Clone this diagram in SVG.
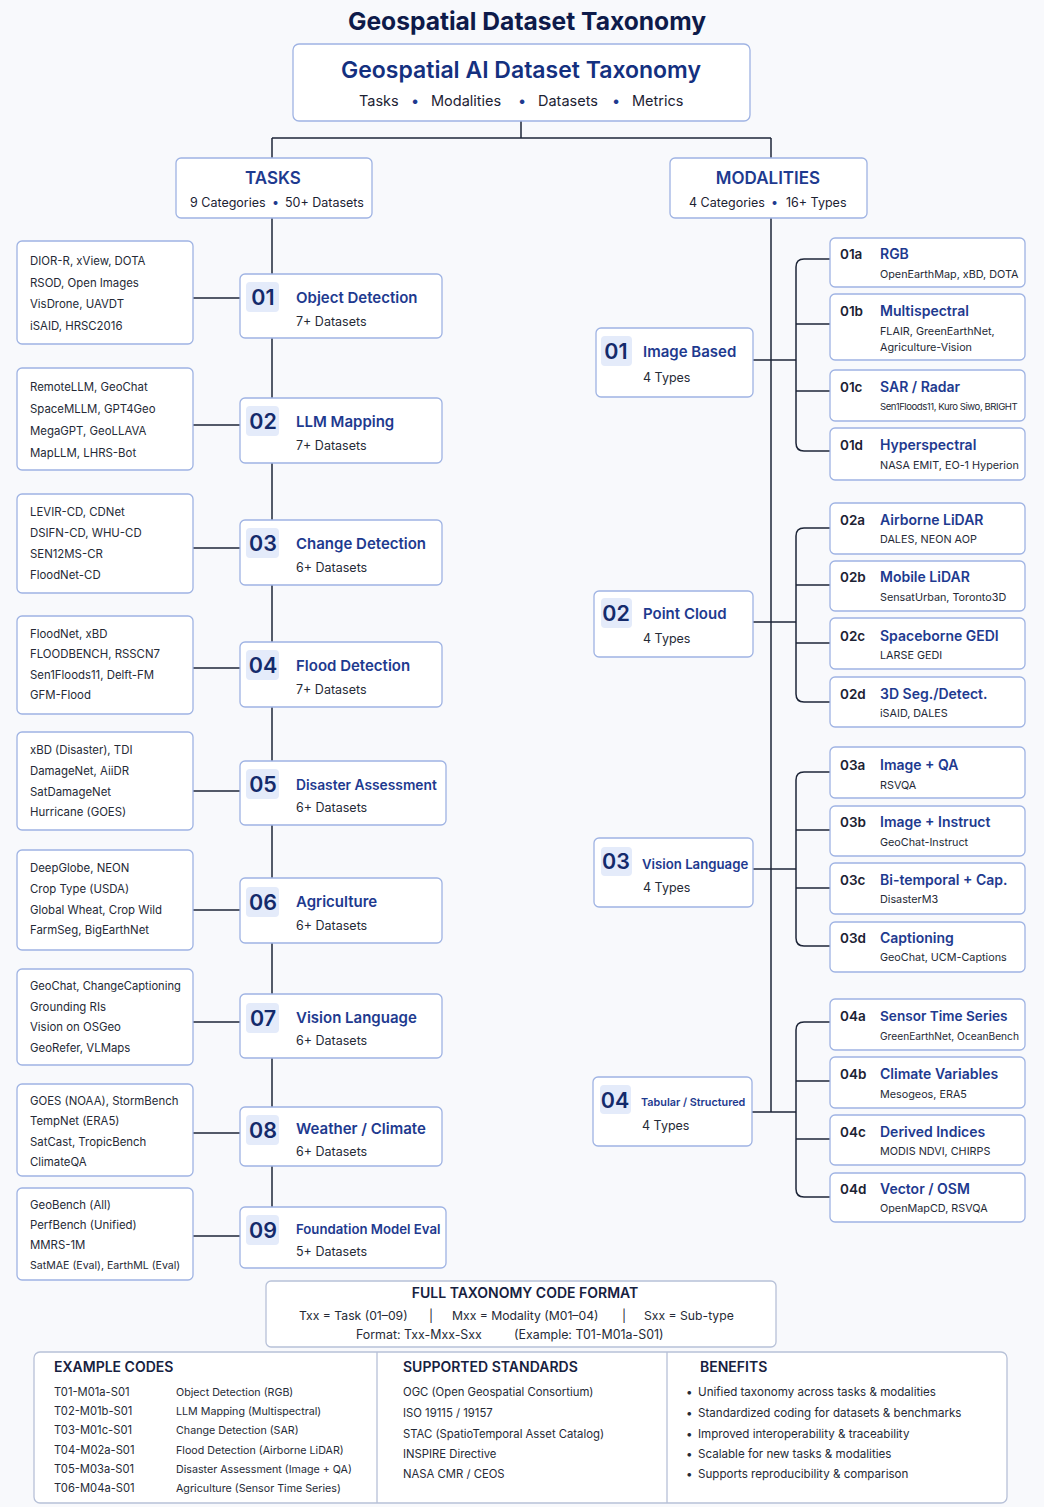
<svg xmlns="http://www.w3.org/2000/svg" width="1044" height="1507" viewBox="0 0 1044 1507">
<style>
text{font-family:Inter,"Liberation Sans",sans-serif;fill:#1c2233}
.box{fill:#fff;stroke:#9fb3e3;stroke-width:1.3}
.badge{fill:#e4ebfa}
.num{font-size:21.5px;font-weight:600;fill:#142a6b;text-anchor:middle}
.ttl{font-size:15px;font-weight:600;fill:#1e3a8f}
.sub{font-size:12.5px;fill:#252a36}
.dat{font-size:11.4px;fill:#252a36}
.code{font-size:13.5px;font-weight:600;fill:#1c2233}
.stl{font-size:14px;font-weight:600;fill:#1e3a8f}
.ssub{font-size:10.8px;fill:#252a36}
.hdr{font-size:14px;font-weight:600;fill:#17213f}
.sm{font-size:11.3px;fill:#252a36}
.conn{fill:none;stroke:#1e2638;stroke-width:1.5}
</style>
<rect width="1044" height="1507" fill="#f8f9fc"/>
<text x="527" y="30" text-anchor="middle" style="font-size:24.6px;font-weight:700;fill:#0e1b4a">Geospatial Dataset Taxonomy</text>

<g id="connectors" class="conn">
<path d="M521 121V138M272 138H771M272 138V158M771 138V158"/>
<path d="M272 218V1208"/>
<path d="M771 218V1112"/>
<path d="M193 298H240M193 425H240M193 548H240M193 668H240M193 791H240M193 910H240M193 1022H240M193 1133H240M193 1236H240"/>
<path d="M753 360H796M830 259H804Q796 259 796 267V443Q796 451 804 451H830M796 324H830M796 391H830"/>
<path d="M753 622H796M830 528H804Q796 528 796 536V694Q796 702 804 702H830M796 585H830M796 643H830"/>
<path d="M753 869H796M830 772H804Q796 772 796 780V938Q796 946 804 946H830M796 830H830M796 888H830"/>
<path d="M752 1112H796M830 1022H804Q796 1022 796 1030V1189Q796 1197 804 1197H830M796 1081H830M796 1139H830"/>
</g>

<g id="root">
<rect class="box" x="293" y="44" width="457" height="77" rx="6"/>
<text x="521" y="78" text-anchor="middle" style="font-size:23px;font-weight:600;fill:#14307f">Geospatial AI Dataset Taxonomy</text>
<text y="106" style="font-size:14.5px" fill="#1c2233"><tspan x="359">Tasks</tspan><tspan x="411" fill="#1e3a8f">•</tspan><tspan x="431">Modalities</tspan><tspan x="518" fill="#1e3a8f">•</tspan><tspan x="538">Datasets</tspan><tspan x="612" fill="#1e3a8f">•</tspan><tspan x="632">Metrics</tspan></text>
</g>

<g id="tasks">
<rect class="box" x="176" y="158" width="196" height="60" rx="5"/>
<text x="273" y="184" text-anchor="middle" style="font-size:17px;font-weight:600;fill:#1e3a8f">TASKS</text>
<text y="207" style="font-size:12.5px"><tspan x="190">9 Categories</tspan><tspan x="272" fill="#1e3a8f">•</tspan><tspan x="285">50+ Datasets</tspan></text>
</g>
<g id="modalities">
<rect class="box" x="670" y="158" width="197" height="60" rx="5"/>
<text x="768" y="184" text-anchor="middle" style="font-size:17px;font-weight:600;fill:#1e3a8f">MODALITIES</text>
<text y="207" style="font-size:12.5px"><tspan x="689">4 Categories</tspan><tspan x="771" fill="#1e3a8f">•</tspan><tspan x="786">16+ Types</tspan></text>
</g>

<!-- Task nodes -->
<g id="t01"><rect class="box" x="240" y="274" width="202" height="64" rx="5"/><rect class="badge" x="246" y="282" width="33" height="30" rx="4"/><text class="num" x="263" y="305">01</text><text class="ttl" x="296" y="303">Object Detection</text><text class="sub" x="296" y="326">7+ Datasets</text></g>
<g id="t02"><rect class="box" x="240" y="398" width="202" height="65" rx="5"/><rect class="badge" x="246" y="406" width="33" height="30" rx="4"/><text class="num" x="263" y="429">02</text><text class="ttl" x="296" y="427">LLM Mapping</text><text class="sub" x="296" y="450">7+ Datasets</text></g>
<g id="t03"><rect class="box" x="240" y="520" width="202" height="65" rx="5"/><rect class="badge" x="246" y="528" width="33" height="30" rx="4"/><text class="num" x="263" y="551">03</text><text class="ttl" x="296" y="549">Change Detection</text><text class="sub" x="296" y="572">6+ Datasets</text></g>
<g id="t04"><rect class="box" x="240" y="642" width="202" height="65" rx="5"/><rect class="badge" x="246" y="650" width="33" height="30" rx="4"/><text class="num" x="263" y="673">04</text><text class="ttl" x="296" y="671">Flood Detection</text><text class="sub" x="296" y="694">7+ Datasets</text></g>
<g id="t05"><rect class="box" x="240" y="761" width="206" height="64" rx="5"/><rect class="badge" x="246" y="769" width="33" height="30" rx="4"/><text class="num" x="263" y="792">05</text><text class="ttl" x="296" y="790" style="font-size:13.8px">Disaster Assessment</text><text class="sub" x="296" y="812">6+ Datasets</text></g>
<g id="t06"><rect class="box" x="240" y="878" width="202" height="65" rx="5"/><rect class="badge" x="246" y="887" width="33" height="30" rx="4"/><text class="num" x="263" y="910">06</text><text class="ttl" x="296" y="907">Agriculture</text><text class="sub" x="296" y="930">6+ Datasets</text></g>
<g id="t07"><rect class="box" x="240" y="994" width="202" height="64" rx="5"/><rect class="badge" x="246" y="1003" width="33" height="30" rx="4"/><text class="num" x="263" y="1026">07</text><text class="ttl" x="296" y="1023">Vision Language</text><text class="sub" x="296" y="1045">6+ Datasets</text></g>
<g id="t08"><rect class="box" x="240" y="1107" width="202" height="59" rx="5"/><rect class="badge" x="246" y="1115" width="33" height="30" rx="4"/><text class="num" x="263" y="1138">08</text><text class="ttl" x="296" y="1134">Weather / Climate</text><text class="sub" x="296" y="1156">6+ Datasets</text></g>
<g id="t09"><rect class="box" x="240" y="1207" width="206" height="61" rx="5"/><rect class="badge" x="246" y="1215" width="33" height="30" rx="4"/><text class="num" x="263" y="1238">09</text><text class="ttl" x="296" y="1234" style="font-size:13.2px">Foundation Model Eval</text><text class="sub" x="296" y="1256">5+ Datasets</text></g>

<!-- Dataset lists -->
<g id="d01"><rect class="box" x="17" y="241" width="176" height="103" rx="5"/><text class="dat" x="30" y="265">DIOR-R, xView, DOTA</text><text class="dat" x="30" y="287">RSOD, Open Images</text><text class="dat" x="30" y="308">VisDrone, UAVDT</text><text class="dat" x="30" y="330">iSAID, HRSC2016</text></g>
<g id="d02"><rect class="box" x="17" y="368" width="176" height="102" rx="5"/><text class="dat" x="30" y="391">RemoteLLM, GeoChat</text><text class="dat" x="30" y="413">SpaceMLLM, GPT4Geo</text><text class="dat" x="30" y="435">MegaGPT, GeoLLAVA</text><text class="dat" x="30" y="457">MapLLM, LHRS-Bot</text></g>
<g id="d03"><rect class="box" x="17" y="494" width="176" height="99" rx="5"/><text class="dat" x="30" y="516">LEVIR-CD, CDNet</text><text class="dat" x="30" y="537">DSIFN-CD, WHU-CD</text><text class="dat" x="30" y="558">SEN12MS-CR</text><text class="dat" x="30" y="579">FloodNet-CD</text></g>
<g id="d04"><rect class="box" x="17" y="616" width="176" height="98" rx="5"/><text class="dat" x="30" y="638">FloodNet, xBD</text><text class="dat" x="30" y="658">FLOODBENCH, RSSCN7</text><text class="dat" x="30" y="679">Sen1Floods11, Delft-FM</text><text class="dat" x="30" y="699">GFM-Flood</text></g>
<g id="d05"><rect class="box" x="17" y="732" width="176" height="98" rx="5"/><text class="dat" x="30" y="754">xBD (Disaster), TDI</text><text class="dat" x="30" y="775">DamageNet, AiiDR</text><text class="dat" x="30" y="796">SatDamageNet</text><text class="dat" x="30" y="816">Hurricane (GOES)</text></g>
<g id="d06"><rect class="box" x="17" y="850" width="176" height="100" rx="5"/><text class="dat" x="30" y="872">DeepGlobe, NEON</text><text class="dat" x="30" y="893">Crop Type (USDA)</text><text class="dat" x="30" y="914">Global Wheat, Crop Wild</text><text class="dat" x="30" y="934">FarmSeg, BigEarthNet</text></g>
<g id="d07"><rect class="box" x="17" y="969" width="176" height="96" rx="5"/><text class="dat" x="30" y="990" style="font-size:11.2px">GeoChat, ChangeCaptioning</text><text class="dat" x="30" y="1011">Grounding RIs</text><text class="dat" x="30" y="1031">Vision on OSGeo</text><text class="dat" x="30" y="1052">GeoRefer, VLMaps</text></g>
<g id="d08"><rect class="box" x="17" y="1084" width="176" height="92" rx="5"/><text class="dat" x="30" y="1105">GOES (NOAA), StormBench</text><text class="dat" x="30" y="1125">TempNet (ERA5)</text><text class="dat" x="30" y="1146">SatCast, TropicBench</text><text class="dat" x="30" y="1166">ClimateQA</text></g>
<g id="d09"><rect class="box" x="17" y="1188" width="176" height="92" rx="5"/><text class="dat" x="30" y="1209">GeoBench (All)</text><text class="dat" x="30" y="1229">PerfBench (Unified)</text><text class="dat" x="30" y="1249">MMRS-1M</text><text class="dat" x="30" y="1269" style="font-size:10.6px">SatMAE (Eval), EarthML (Eval)</text></g>

<!-- Modality categories -->
<g id="m01"><rect class="box" x="596" y="328" width="157" height="69" rx="5"/><rect class="badge" x="601" y="336" width="31" height="30" rx="4"/><text class="num" x="616" y="359">01</text><text class="ttl" x="643" y="357">Image Based</text><text class="sub" x="643" y="382">4 Types</text></g>
<g id="m02"><rect class="box" x="594" y="591" width="159" height="66" rx="5"/><rect class="badge" x="601" y="598" width="31" height="30" rx="4"/><text class="num" x="616" y="621">02</text><text class="ttl" x="643" y="619">Point Cloud</text><text class="sub" x="643" y="643">4 Types</text></g>
<g id="m03"><rect class="box" x="594" y="838" width="159" height="69" rx="5"/><rect class="badge" x="601" y="847" width="31" height="29" rx="4"/><text class="num" x="616" y="869">03</text><text class="ttl" x="642" y="869" style="font-size:13.2px">Vision Language</text><text class="sub" x="643" y="892">4 Types</text></g>
<g id="m04"><rect class="box" x="593" y="1077" width="159" height="69" rx="5"/><rect class="badge" x="600" y="1085" width="31" height="29" rx="4"/><text class="num" x="615" y="1108">04</text><text class="ttl" x="641" y="1106" style="font-size:10.8px">Tabular / Structured</text><text class="sub" x="642" y="1130">4 Types</text></g>

<!-- Modality subtypes -->
<g id="m01a"><rect class="box" x="830" y="238" width="195" height="49" rx="5"/><text class="code" x="840" y="259">01a</text><text class="stl" x="880" y="259">RGB</text><text class="ssub" x="880" y="278">OpenEarthMap, xBD, DOTA</text></g>
<g id="m01b"><rect class="box" x="830" y="294" width="195" height="66" rx="5"/><text class="code" x="840" y="316">01b</text><text class="stl" x="880" y="316">Multispectral</text><text class="ssub" x="880" y="335">FLAIR, GreenEarthNet,</text><text class="ssub" x="880" y="351">Agriculture-Vision</text></g>
<g id="m01c"><rect class="box" x="830" y="370" width="195" height="51" rx="5"/><text class="code" x="840" y="392">01c</text><text class="stl" x="880" y="392">SAR / Radar</text><text class="ssub" x="880" y="410" style="font-size:9.6px;letter-spacing:-0.45px">Sen1Floods11, Kuro Siwo, BRIGHT</text></g>
<g id="m01d"><rect class="box" x="830" y="428" width="195" height="52" rx="5"/><text class="code" x="840" y="450">01d</text><text class="stl" x="880" y="450">Hyperspectral</text><text class="ssub" x="880" y="469">NASA EMIT, EO-1 Hyperion</text></g>

<g id="m02a"><rect class="box" x="830" y="503" width="195" height="51" rx="5"/><text class="code" x="840" y="525">02a</text><text class="stl" x="880" y="525">Airborne LiDAR</text><text class="ssub" x="880" y="543">DALES, NEON AOP</text></g>
<g id="m02b"><rect class="box" x="830" y="561" width="195" height="50" rx="5"/><text class="code" x="840" y="582">02b</text><text class="stl" x="880" y="582">Mobile LiDAR</text><text class="ssub" x="880" y="601">SensatUrban, Toronto3D</text></g>
<g id="m02c"><rect class="box" x="830" y="618" width="195" height="51" rx="5"/><text class="code" x="840" y="641">02c</text><text class="stl" x="880" y="641">Spaceborne GEDI</text><text class="ssub" x="880" y="659">LARSE GEDI</text></g>
<g id="m02d"><rect class="box" x="830" y="677" width="195" height="50" rx="5"/><text class="code" x="840" y="699">02d</text><text class="stl" x="880" y="699">3D Seg./Detect.</text><text class="ssub" x="880" y="717">iSAID, DALES</text></g>

<g id="m03a"><rect class="box" x="830" y="747" width="195" height="51" rx="5"/><text class="code" x="840" y="770">03a</text><text class="stl" x="880" y="770">Image + QA</text><text class="ssub" x="880" y="789">RSVQA</text></g>
<g id="m03b"><rect class="box" x="830" y="806" width="195" height="50" rx="5"/><text class="code" x="840" y="827">03b</text><text class="stl" x="880" y="827">Image + Instruct</text><text class="ssub" x="880" y="846">GeoChat-Instruct</text></g>
<g id="m03c"><rect class="box" x="830" y="863" width="195" height="51" rx="5"/><text class="code" x="840" y="885">03c</text><text class="stl" x="880" y="885">Bi-temporal + Cap.</text><text class="ssub" x="880" y="903">DisasterM3</text></g>
<g id="m03d"><rect class="box" x="830" y="922" width="195" height="50" rx="5"/><text class="code" x="840" y="943">03d</text><text class="stl" x="880" y="943">Captioning</text><text class="ssub" x="880" y="961">GeoChat, UCM-Captions</text></g>

<g id="m04a"><rect class="box" x="830" y="999" width="195" height="51" rx="5"/><text class="code" x="840" y="1021">04a</text><text class="stl" x="880" y="1021" style="font-size:13.6px">Sensor Time Series</text><text class="ssub" x="880" y="1040" style="font-size:10.2px">GreenEarthNet, OceanBench</text></g>
<g id="m04b"><rect class="box" x="830" y="1057" width="195" height="51" rx="5"/><text class="code" x="840" y="1079">04b</text><text class="stl" x="880" y="1079">Climate Variables</text><text class="ssub" x="880" y="1098">Mesogeos, ERA5</text></g>
<g id="m04c"><rect class="box" x="830" y="1115" width="195" height="50" rx="5"/><text class="code" x="840" y="1137">04c</text><text class="stl" x="880" y="1137">Derived Indices</text><text class="ssub" x="880" y="1155">MODIS NDVI, CHIRPS</text></g>
<g id="m04d"><rect class="box" x="830" y="1173" width="195" height="49" rx="5"/><text class="code" x="840" y="1194">04d</text><text class="stl" x="880" y="1194">Vector / OSM</text><text class="ssub" x="880" y="1212">OpenMapCD, RSVQA</text></g>

<!-- Code format -->
<g id="code-format">
<rect class="box" x="266" y="1281" width="510" height="66" rx="5" style="stroke:#b7c1d8"/>
<text class="hdr" x="525" y="1298" text-anchor="middle">FULL TAXONOMY CODE FORMAT</text>
<text class="sm" y="1320" style="font-size:12.2px"><tspan x="299">Txx = Task (01–09)</tspan><tspan x="429">|</tspan><tspan x="452">Mxx = Modality (M01–04)</tspan><tspan x="622">|</tspan><tspan x="644">Sxx = Sub-type</tspan></text>
<text class="sm" y="1339" style="font-size:12.4px"><tspan x="356">Format: Txx-Mxx-Sxx</tspan><tspan x="514">(Example: T01-M01a-S01)</tspan></text>
</g>

<!-- Footer -->
<g id="footer">
<rect class="box" x="34" y="1352" width="973" height="151" rx="6" style="stroke:#b7c1d8"/>
<path d="M377 1352V1503M667 1352V1503" stroke="#b7c1d8" stroke-width="1.3"/>
<text class="hdr" x="54" y="1372">EXAMPLE CODES</text>
<text class="hdr" x="403" y="1372">SUPPORTED STANDARDS</text>
<text class="hdr" x="700" y="1372">BENEFITS</text>
<text class="sm" x="54" y="1396" style="font-size:11.2px">T01-M01a-S01</text><text class="sm" x="176" y="1396" style="font-size:10.7px">Object Detection (RGB)</text>
<text class="sm" x="54" y="1415" style="font-size:11.2px">T02-M01b-S01</text><text class="sm" x="176" y="1415" style="font-size:10.7px">LLM Mapping (Multispectral)</text>
<text class="sm" x="54" y="1434" style="font-size:11.2px">T03-M01c-S01</text><text class="sm" x="176" y="1434" style="font-size:10.7px">Change Detection (SAR)</text>
<text class="sm" x="54" y="1454" style="font-size:11.2px">T04-M02a-S01</text><text class="sm" x="176" y="1454" style="font-size:10.7px">Flood Detection (Airborne LiDAR)</text>
<text class="sm" x="54" y="1473" style="font-size:11.2px">T05-M03a-S01</text><text class="sm" x="176" y="1473" style="font-size:10.7px">Disaster Assessment (Image + QA)</text>
<text class="sm" x="54" y="1492" style="font-size:11.2px">T06-M04a-S01</text><text class="sm" x="176" y="1492" style="font-size:10.7px">Agriculture (Sensor Time Series)</text>
<text class="sm" x="403" y="1396">OGC (Open Geospatial Consortium)</text>
<text class="sm" x="403" y="1417">ISO 19115 / 19157</text>
<text class="sm" x="403" y="1438">STAC (SpatioTemporal Asset Catalog)</text>
<text class="sm" x="403" y="1458">INSPIRE Directive</text>
<text class="sm" x="403" y="1478">NASA CMR / CEOS</text>
<text class="sm" x="686" y="1396" style="font-size:11.6px">•<tspan x="698">Unified taxonomy across tasks &amp; modalities</tspan></text>
<text class="sm" x="686" y="1417" style="font-size:11.6px">•<tspan x="698">Standardized coding for datasets &amp; benchmarks</tspan></text>
<text class="sm" x="686" y="1438" style="font-size:11.6px">•<tspan x="698">Improved interoperability &amp; traceability</tspan></text>
<text class="sm" x="686" y="1458" style="font-size:11.6px">•<tspan x="698">Scalable for new tasks &amp; modalities</tspan></text>
<text class="sm" x="686" y="1478" style="font-size:11.6px">•<tspan x="698">Supports reproducibility &amp; comparison</tspan></text>
</g>
</svg>
